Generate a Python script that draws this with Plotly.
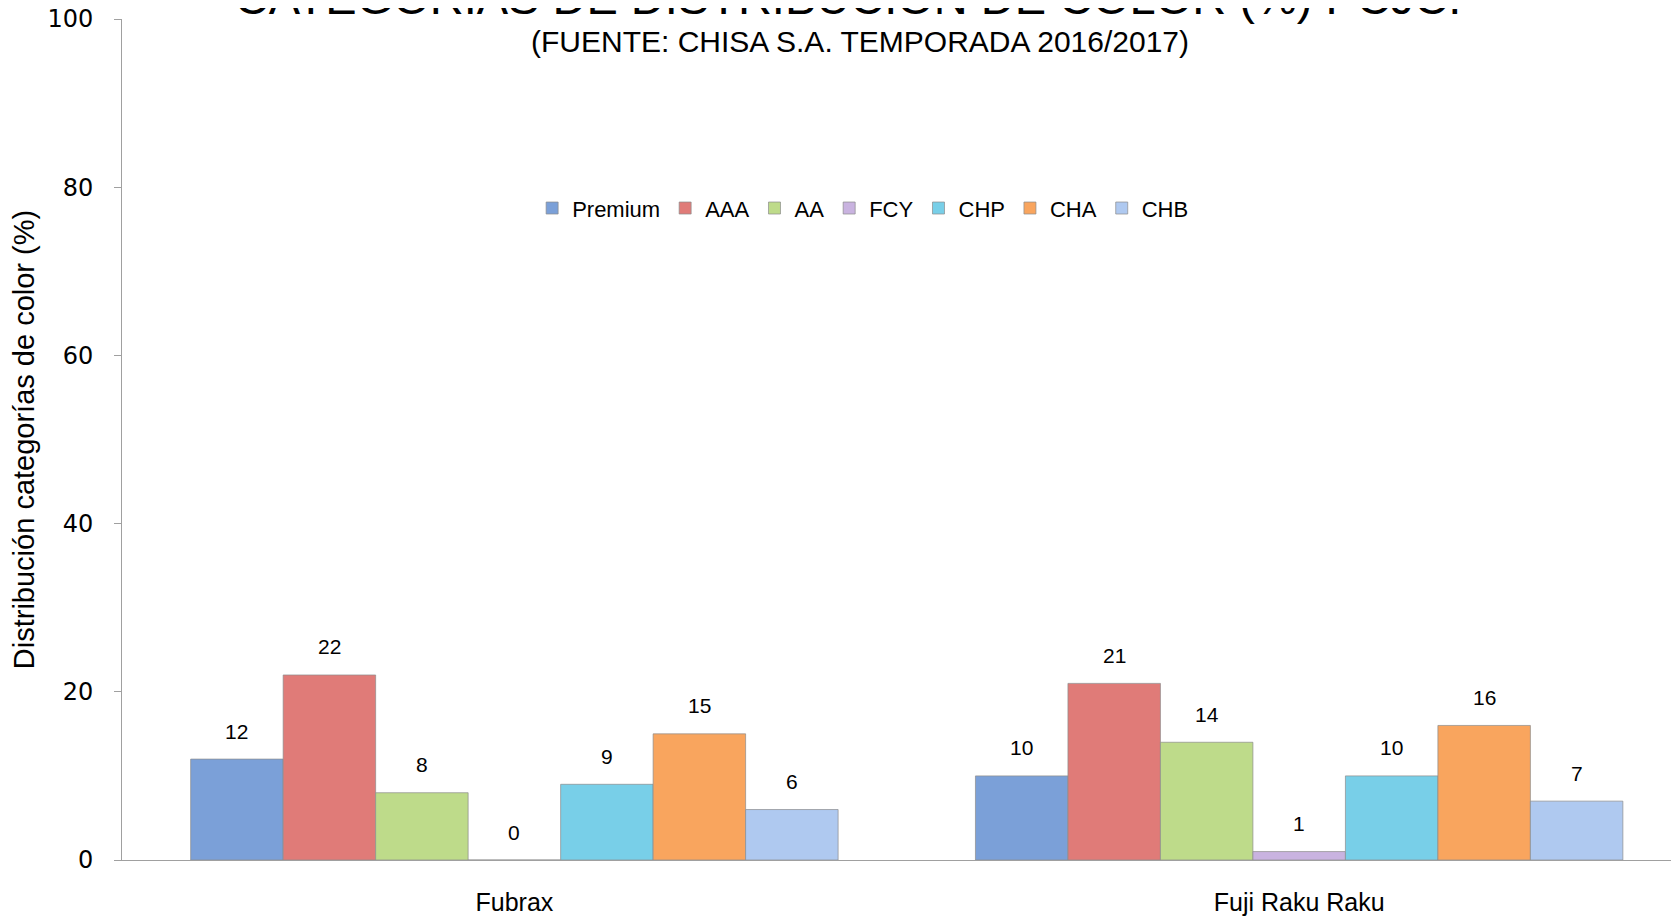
import plotly.graph_objects as go

categories = ["Fubrax", "Fuji Raku Raku"]
series_names = ["Premium", "AAA", "AA", "FCY", "CHP", "CHA", "CHB"]
premium = [12, 10]
aaa = [22, 21]
aa = [8, 14]
fcy = [0, 1]
chp = [9, 10]
cha = [15, 16]
chb = [6, 7]
values = [premium, aaa, aa, fcy, chp, cha, chb]
colors = ["#7BA0D8", "#E07B78", "#BEDB8A", "#C9B3E0", "#78CFE8", "#F9A55E", "#AFC9F0"]

# page body has an 8px margin, so the figure is sized to fit the window
W, H = 1671, 909
ML, MR, MT, MB = 114, 0, 11, 57
XR = [-0.5, 1.484]
BARGAP = 0.175

fig = go.Figure()
for name, vals, col in zip(series_names, values, colors):
    fig.add_trace(go.Bar(
        name=name, x=categories, y=vals,
        marker=dict(color=col, line=dict(color="rgba(140,140,140,0.7)", width=1)),
    ))

# data labels above bars
plot_w = W - ML - MR
px_per_cat = plot_w / (XR[1] - XR[0])
bw = px_per_cat * (1 - BARGAP) / len(series_names)
n = len(series_names)
for i, vals in enumerate(values):
    for cat, v in zip(categories, vals):
        fig.add_annotation(
            x=cat, y=v, xref="x", yref="y", text=str(v), showarrow=False,
            xshift=(i - (n - 1) / 2) * bw, yshift=28, yanchor="middle",
            font=dict(family="Liberation Sans, Arial, sans-serif", size=21, color="#000"),
        )

fig.add_annotation(
    text="(FUENTE: CHISA S.A. TEMPORADA 2016/2017)", xref="paper", yref="paper",
    x=0.474, y=0.9727, showarrow=False, xanchor="center", yanchor="middle",
    font=dict(family="Liberation Sans, Arial, sans-serif", size=30, color="#000"),
)

fig.update_layout(
    width=W, height=H,
    margin=dict(l=ML, r=MR, t=MT, b=MB, autoexpand=False),
    paper_bgcolor="white", plot_bgcolor="white",
    barmode="group", bargap=BARGAP, bargroupgap=0,
    title=dict(
        text="CATEGORÍAS DE DISTRIBUCIÓN DE COLOR (%) PCJC.",
        x=0.5027, xanchor="center", yref="container", y=1 - 6 / H, yanchor="bottom",
        font=dict(family="Liberation Sans, Arial, sans-serif", size=47, color="#000"),
    ),
    legend=dict(
        orientation="h", x=0.476, y=0.775, xanchor="center", yanchor="middle",
        font=dict(family="Liberation Sans, Arial, sans-serif", size=22, color="#000"),
        bgcolor="rgba(0,0,0,0)", itemwidth=30, traceorder="normal",
    ),
    xaxis=dict(
        range=XR, showgrid=False, showline=True, linecolor="#A0A0A0", linewidth=1,
        ticks="", ticklabelstandoff=20, automargin=False,
        tickfont=dict(family="Liberation Sans, Arial, sans-serif", size=25, color="#000"),
        zeroline=False,
    ),
    yaxis=dict(
        range=[0, 100], tickvals=[0, 20, 40, 60, 80, 100], showgrid=False,
        showline=True, linecolor="#A0A0A0", linewidth=1, ticks="outside", ticklen=7,
        tickcolor="#A0A0A0", ticklabelstandoff=16, zeroline=False, automargin=False,
        ticklabeloverflow="allow",
        tickfont=dict(family="DejaVu Sans, Verdana, sans-serif", size=24, color="#000"),
        title=dict(text="Distribución categorías de color (%)", standoff=7,
                   font=dict(family="Liberation Sans, Arial, sans-serif", size=29, color="#000")),
    ),
)

fig.write_html("out.html")
